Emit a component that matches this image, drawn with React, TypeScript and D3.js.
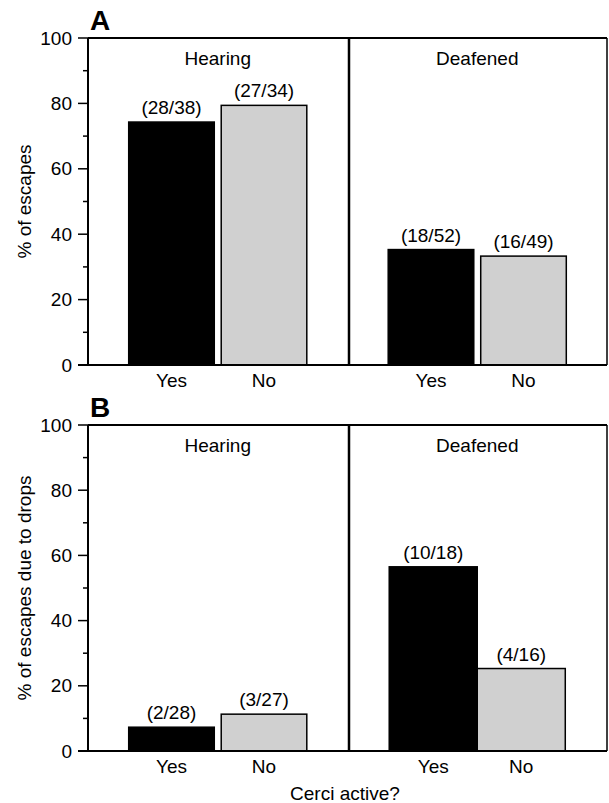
import React from "react";
import * as d3 from "d3";

const groups = ["Hearing", "Deafened"];
const conditions = ["Yes", "No"];
// Panel A: % of escapes
const panelAValues = [74.3, 79.4, 35.3, 33.3];
const panelALabels = ["(28/38)", "(27/34)", "(18/52)", "(16/49)"];
// Panel B: % of escapes due to drops
const panelBValues = [7.3, 11.3, 56.5, 25.3];
const panelBLabels = ["(2/28)", "(3/27)", "(10/18)", "(4/16)"];
const yTicks = [0, 20, 40, 60, 80, 100];
const yMinorTicks = [10, 30, 50, 70, 90];

const W = 609;
const H = 803;
const FONT = "'Liberation Sans', Arial, Helvetica, sans-serif";
const FS = 19;
const left = 88;
const right = 607;

type PanelProps = {
  top: number;
  bottom: number;
  values: number[];
  labels: string[];
  letter: string;
  yTitle: string;
  gaps: number[];
};

function Panel({ top, bottom, values, labels, letter, yTitle, gaps }: PanelProps) {
  const y = d3.scaleLinear().domain([0, 100]).range([bottom, top]);
  const gx = d3.scaleBand<string>().domain(groups).range([left, right]).padding(0);
  const inners = gaps.map((gp) =>
    d3
      .scaleBand<string>()
      .domain(conditions)
      .range([0, gx.bandwidth()])
      .paddingInner(gp)
      .paddingOuter(gp > 0 ? 0.44 : 0.474)
  );
  const dividerX = (gx("Deafened") as number) + 1.5;
  const fills = ["#000000", "#d0d0d0"];
  return (
    <g>
      <text x={90} y={top - 8} fontFamily={FONT} fontWeight="bold" fontSize={28}>
        {letter}
      </text>
      {groups.map((g, gi) =>
        conditions.map((c, ci) => {
          const inner = inners[gi];
          const i = gi * 2 + ci;
          const x0 = (gx(g) as number) + (inner(c) as number);
          const bw = inner.bandwidth();
          const yv = y(values[i]);
          return (
            <g key={g + c}>
              <rect
                x={x0}
                y={yv}
                width={bw}
                height={bottom - yv}
                fill={fills[ci]}
                stroke="#000"
                strokeWidth={1.5}
              />
              <text
                x={x0 + bw / 2}
                y={yv - 8}
                textAnchor="middle"
                fontFamily={FONT}
                fontSize={FS}
              >
                {labels[i]}
              </text>
              <text
                x={x0 + bw / 2}
                y={bottom + 22}
                textAnchor="middle"
                fontFamily={FONT}
                fontSize={FS}
              >
                {c}
              </text>
            </g>
          );
        })
      )}
      {groups.map((g) => (
        <text
          key={g}
          x={(gx(g) as number) + gx.bandwidth() / 2}
          y={top + 27}
          textAnchor="middle"
          fontFamily={FONT}
          fontSize={FS}
        >
          {g}
        </text>
      ))}
      <line x1={left} x2={right} y1={top} y2={top} stroke="#000" strokeWidth={2} />
      <line x1={right} x2={right} y1={top} y2={bottom} stroke="#000" strokeWidth={1.5} />
      <line x1={left - 10} x2={right} y1={bottom} y2={bottom} stroke="#000" strokeWidth={2} />
      <line x1={dividerX} x2={dividerX} y1={top} y2={bottom} stroke="#000" strokeWidth={2.5} />
      <line x1={left} x2={left} y1={top} y2={bottom} stroke="#000" strokeWidth={2} />
      {yTicks.map((t) => (
        <g key={t}>
          <line x1={left - 10} x2={left} y1={y(t)} y2={y(t)} stroke="#000" strokeWidth={1.5} />
          <text
            x={left - 16}
            y={y(t)}
            dy="0.35em"
            textAnchor="end"
            fontFamily={FONT}
            fontSize={FS}
          >
            {t}
          </text>
        </g>
      ))}
      {yMinorTicks.map((t) => (
        <line key={t} x1={left - 5} x2={left} y1={y(t)} y2={y(t)} stroke="#000" strokeWidth={1.5} />
      ))}
      <text
        transform={`translate(31,${(top + bottom) / 2}) rotate(-90)`}
        textAnchor="middle"
        fontFamily={FONT}
        fontSize={FS}
      >
        {yTitle}
      </text>
    </g>
  );
}

export default function App() {
  return (
    <svg
      width={W}
      height={H}
      style={{ position: "absolute", left: 0, top: 0, background: "#fff" }}
    >
      <rect width={W} height={H} fill="#fff" />
      <Panel
        top={38}
        bottom={365}
        values={panelAValues}
        labels={panelALabels}
        letter="A"
        yTitle="% of escapes"
        gaps={[0.075, 0.075]}
      />
      <Panel
        top={425}
        bottom={751}
        values={panelBValues}
        labels={panelBLabels}
        letter="B"
        yTitle="% of escapes due to drops"
        gaps={[0.075, 0]}
      />
      <text x={345} y={800} textAnchor="middle" fontFamily={FONT} fontSize={FS}>
        Cerci active?
      </text>
    </svg>
  );
}
